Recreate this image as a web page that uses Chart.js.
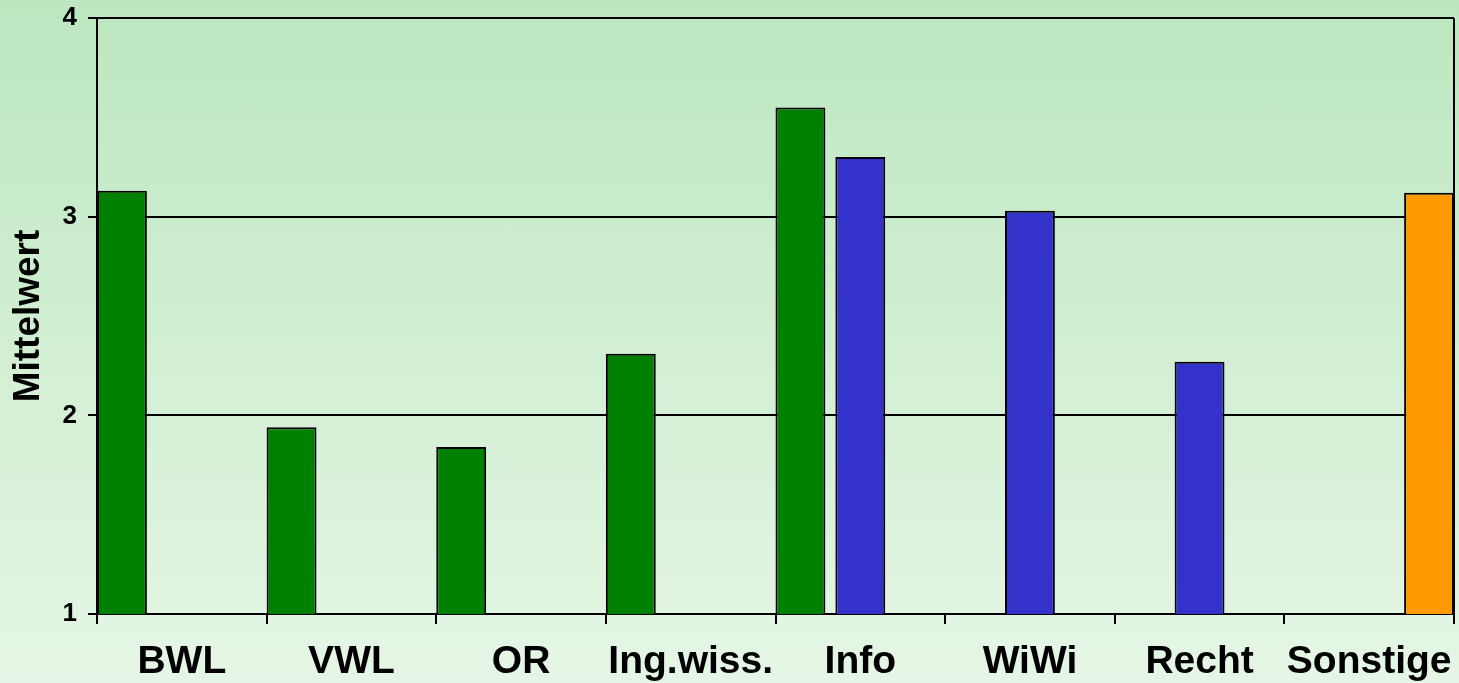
<!DOCTYPE html>
<html>
<head>
<meta charset="utf-8">
<script src="https://cdn.jsdelivr.net/npm/chart.js@4"></script>
<style>
  html, body { margin: 0; padding: 0; }
  body { background: linear-gradient(#bce7bf, #e6f6e6); width: 1459px; height: 683px; overflow: hidden; }
  #wrap { width: 1459px; height: 683px; position: relative; }
</style>
</head>
<body>
<div id="wrap"><canvas id="myChart"></canvas></div>
<script>
// Mittelwert je Studienrichtung
const labels = ['BWL', 'VWL', 'OR', 'Ing.wiss.', 'Info', 'WiWi', 'Recht', 'Sonstige'];
const greenValues = [3.13, 1.94, 1.84, 2.31, 3.55, null, null, null];
const blueValues = [null, null, null, null, 3.30, 3.03, 2.27, null];
const orangeValues = [null, null, null, null, null, null, null, 3.12];
const yTicks = [1, 2, 3, 4];

// right border of the plot area
const frameRight = {
    id: 'frameRight',
    afterDraw(chart) {
        const a = chart.chartArea;
        const c = chart.ctx;
        c.save();
        c.strokeStyle = '#000';
        c.lineWidth = 2;
        c.beginPath();
        c.moveTo(a.right, a.top);
        c.lineTo(a.right, a.bottom);
        c.stroke();
        c.restore();
    }
};

const ctx = document.getElementById('myChart').getContext('2d');

const bar = (data, color) => ({
    data: data,
    backgroundColor: color,
    borderColor: '#000',
    borderWidth: 2,
    borderSkipped: false,
    categoryPercentage: 180 / 170,
    barPercentage: 50 / 60
});

const myChart = new Chart(ctx, {
    type: 'bar',
    data: {
        labels: labels,
        datasets: [
            bar(greenValues, '#008000'),
            bar(blueValues, '#3333cc'),
            bar(orangeValues, '#ff9900')
        ]
    },
    options: {
        responsive: true,
        maintainAspectRatio: false,
        animation: false,
        layout: { padding: { top: 18, right: 5, left: 0, bottom: 0 } },
        plugins: {
            legend: { display: false },
            tooltip: { enabled: false }
        },
        scales: {
            x: {
                grid: {
                    offset: true,
                    drawOnChartArea: false,
                    drawTicks: true,
                    tickLength: 10,
                    color: '#000',
                    lineWidth: 2
                },
                border: { color: '#000', width: 2 },
                ticks: {
                    color: '#000',
                    padding: 15,
                    maxRotation: 0,
                    autoSkip: false,
                    font: { family: 'Liberation Sans, Arial, sans-serif', size: 39, weight: 'bold' }
                },
                afterFit: (scale) => {
                    scale.height = 69;
                    scale.paddingLeft = 0;
                    scale.paddingRight = 0;
                }
            },
            y: {
                min: 1,
                max: 4,
                afterBuildTicks: (scale) => { scale.ticks = yTicks.map(v => ({ value: v })); },
                grid: {
                    color: '#000',
                    lineWidth: 2,
                    tickLength: 9
                },
                border: { color: '#000', width: 2 },
                ticks: {
                    color: '#000',
                    padding: 11,
                    font: { family: 'Liberation Sans, Arial, sans-serif', size: 26, weight: 'bold' }
                },
                title: {
                    display: true,
                    text: 'Mittelwert',
                    color: '#000',
                    padding: { top: 7, bottom: 0 },
                    font: { family: 'Liberation Sans, Arial, sans-serif', size: 37, weight: 'bold' }
                },
                afterFit: (scale) => {
                    scale.width = 97;
                    scale.paddingTop = 0;
                    scale.paddingBottom = 0;
                }
            }
        }
    },
    plugins: [frameRight]
});
</script>
</body>
</html>
